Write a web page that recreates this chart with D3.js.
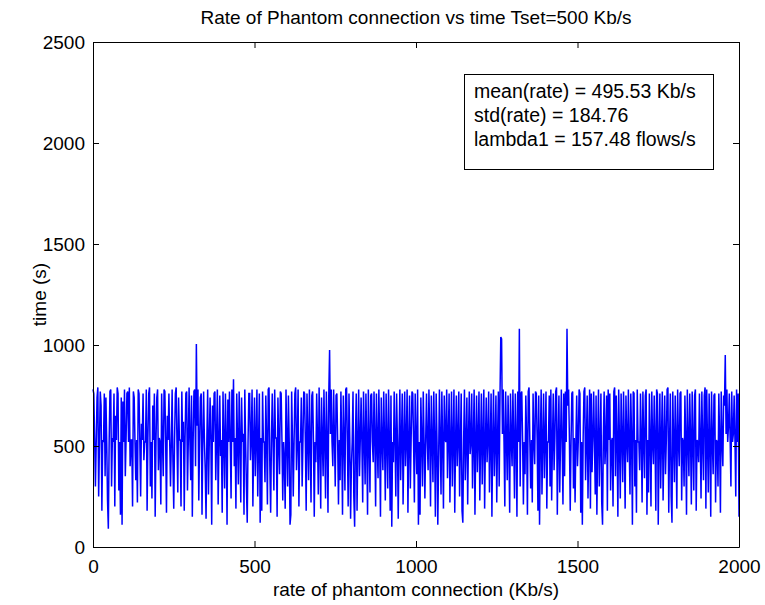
<!DOCTYPE html>
<html>
<head>
<meta charset="utf-8">
<script src="https://cdn.jsdelivr.net/npm/d3@7"></script>
<style>
  html, body { margin: 0; padding: 0; background: #fff; }
  svg { display: block; font-family: "Liberation Sans", Arial, Helvetica, sans-serif; }
</style>
</head>
<body>
<svg id="chart" width="765" height="605"></svg>
<script>
// ---- data ----
const titleText = "Rate of Phantom connection vs time Tset=500 Kb/s";
const xLabelText = "rate of phantom connection (Kb/s)";
const yLabelText = "time (s)";
const xTicks = [0, 500, 1000, 1500, 2000];
const yTicks = [0, 500, 1000, 1500, 2000, 2500];
const xDomain = [0, 2000];
const yDomain = [0, 2500];
const legendLines = ["mean(rate) = 495.53 Kb/s", "std(rate) = 184.76", "lambda1 = 157.48 flows/s"];
const xStep = 2.5;
const rateValues = [
780,760,540,300,520,740,790,250,520,770,700,180,530,520,760,350,740,520,230,90,
520,770,780,300,540,520,760,200,650,530,790,760,280,520,160,740,110,720,520,780,
350,540,760,770,520,790,400,530,530,200,770,740,520,330,530,220,780,760,520,250,
610,530,760,430,520,520,780,180,540,760,790,300,520,240,700,530,760,150,520,740,
780,380,540,520,210,760,530,350,780,770,520,170,650,530,760,520,300,520,780,420,
190,530,760,790,520,270,740,530,530,200,770,520,620,180,540,760,770,280,520,790,
530,330,750,150,520,770,780,400,1005,600,780,230,520,740,760,160,530,770,520,380,
140,530,780,260,520,740,530,110,700,520,760,770,330,540,780,210,520,750,450,530,
170,770,520,290,760,540,110,730,520,770,530,240,780,520,830,400,540,190,760,520,
310,770,530,220,740,520,560,160,780,520,300,120,520,760,760,430,540,780,200,520,
740,350,530,780,250,520,760,120,540,180,770,520,520,320,750,530,210,780,790,400,
170,530,760,520,280,780,540,540,150,740,520,360,770,760,530,230,520,430,190,780,
530,300,750,520,110,160,770,540,250,520,760,790,380,530,780,200,520,520,740,300,
530,770,760,520,180,760,540,330,780,520,220,750,770,530,150,520,420,760,540,260,
790,520,190,740,530,350,780,520,240,770,530,170,760,975,560,780,520,400,780,540,
300,750,760,520,210,530,330,770,520,160,750,540,280,780,790,520,200,760,530,140,
400,520,770,250,100,540,760,180,520,780,350,530,740,520,220,770,540,310,760,520,
160,780,530,270,750,760,520,420,770,540,200,760,520,340,780,530,150,740,520,380,
770,540,230,760,520,290,780,530,180,750,100,520,420,770,540,250,760,520,140,520,
780,330,540,760,210,520,770,400,530,780,170,520,750,290,540,770,760,520,220,760,
530,360,780,110,520,160,740,540,300,770,520,240,530,760,520,380,780,540,200,750,
520,320,770,530,150,760,520,110,430,780,540,260,770,520,190,750,530,520,780,340,
540,760,220,520,770,300,530,780,170,520,750,400,540,770,250,520,760,180,120,530,
780,330,520,740,210,540,770,460,520,760,290,530,780,160,520,750,370,540,770,230,
520,760,310,530,780,190,520,740,420,540,770,270,520,760,150,530,780,350,520,750,
220,540,770,300,740,1040,1030,560,780,520,200,770,540,330,750,520,170,760,530,400,
780,520,240,760,540,150,770,520,1080,300,760,770,530,210,520,360,750,540,160,770,
790,520,290,530,220,760,520,410,770,760,540,180,750,110,530,780,260,520,760,340,
540,770,190,520,520,750,300,780,230,520,760,380,540,770,790,160,520,750,270,530,
780,520,210,760,350,770,520,1080,700,780,530,180,520,760,770,290,540,220,520,750,
400,530,780,760,170,520,110,540,770,790,330,520,750,240,530,780,190,760,370,540,
770,520,260,750,160,530,780,300,520,760,220,110,540,770,410,520,750,180,780,530,
760,280,520,540,200,770,790,350,750,530,150,780,520,240,760,540,320,770,520,190,
750,530,420,780,520,260,760,540,110,770,760,300,530,170,780,520,520,380,760,540,
220,770,520,340,750,780,160,530,270,760,540,200,770,520,410,750,530,180,780,760,
110,520,760,290,540,770,230,520,750,360,530,780,790,170,520,760,250,120,770,520,
320,750,530,190,780,520,400,760,770,230,540,520,300,750,530,160,780,520,350,760,
540,210,770,520,280,750,780,180,530,520,420,760,540,240,770,520,330,750,790,190,
780,520,270,760,540,150,770,520,360,750,760,220,530,520,300,760,540,170,770,520,
400,750,700,950,560,780,520,600,760,540,300,770,520,560,750,530,250,780,520,760,
150
];

// ---- layout ----
const mLeft = 93, mRight = 739, mTop = 42, mBottom = 547;
const svg = d3.select("#chart");
const x = d3.scaleLinear().domain(xDomain).range([mLeft, mRight]);
const y = d3.scaleLinear().domain(yDomain).range([mBottom, mTop]);
const fontSize = 19;

// line
const line = d3.line()
  .x((d, i) => x(i * xStep))
  .y(d => y(d));
svg.append("path")
  .datum(rateValues)
  .attr("fill", "none")
  .attr("stroke", "#0000ff")
  .attr("stroke-width", 1.5)
  .attr("stroke-linejoin", "miter")
  .attr("d", line);

// axes
function styleAxis(g) {
  g.selectAll("path.domain").attr("stroke", "#000").attr("stroke-width", 1);
  g.selectAll(".tick line").attr("stroke", "#000");
  g.selectAll("text").attr("font-size", fontSize).attr("fill", "#000")
    .attr("font-family", "'Liberation Sans', Arial, Helvetica, sans-serif");
}
svg.append("g").attr("transform", `translate(0,${mBottom})`)
  .call(d3.axisBottom(x).tickValues(xTicks).tickSize(-6).tickSizeOuter(0).tickPadding(13).tickFormat(d3.format("d")))
  .call(styleAxis);
svg.append("g").attr("transform", `translate(0,${mTop})`)
  .call(d3.axisTop(x).tickValues(xTicks).tickSize(-6).tickSizeOuter(0).tickFormat(""))
  .call(styleAxis);
svg.append("g").attr("transform", `translate(${mLeft},0)`)
  .call(d3.axisLeft(y).tickValues(yTicks).tickSize(-6).tickSizeOuter(0).tickPadding(8).tickFormat(d3.format("d")))
  .call(styleAxis);
svg.append("g").attr("transform", `translate(${mRight},0)`)
  .call(d3.axisRight(y).tickValues(yTicks).tickSize(-6).tickSizeOuter(0).tickFormat(""))
  .call(styleAxis);

// title & labels
svg.append("text").attr("x", (mLeft + mRight) / 2).attr("y", 24)
  .attr("text-anchor", "middle").attr("font-size", fontSize).text(titleText);
svg.append("text").attr("x", (mLeft + mRight) / 2).attr("y", 596)
  .attr("text-anchor", "middle").attr("font-size", fontSize).text(xLabelText);
svg.append("text").attr("transform", `translate(46,${(mTop + mBottom) / 2}) rotate(-90)`)
  .attr("text-anchor", "middle").attr("font-size", fontSize).text(yLabelText);

// legend box
const lg = svg.append("g");
lg.append("rect").attr("x", 464.5).attr("y", 74.5).attr("width", 249).attr("height", 95)
  .attr("fill", "#fff").attr("stroke", "#000").attr("stroke-width", 1);
lg.selectAll("text.leg").data(legendLines).enter().append("text")
  .attr("class", "leg")
  .attr("x", 474).attr("y", (d, i) => 98 + i * 24)
  .attr("font-size", 19.5).text(d => d);
</script>
</body>
</html>
